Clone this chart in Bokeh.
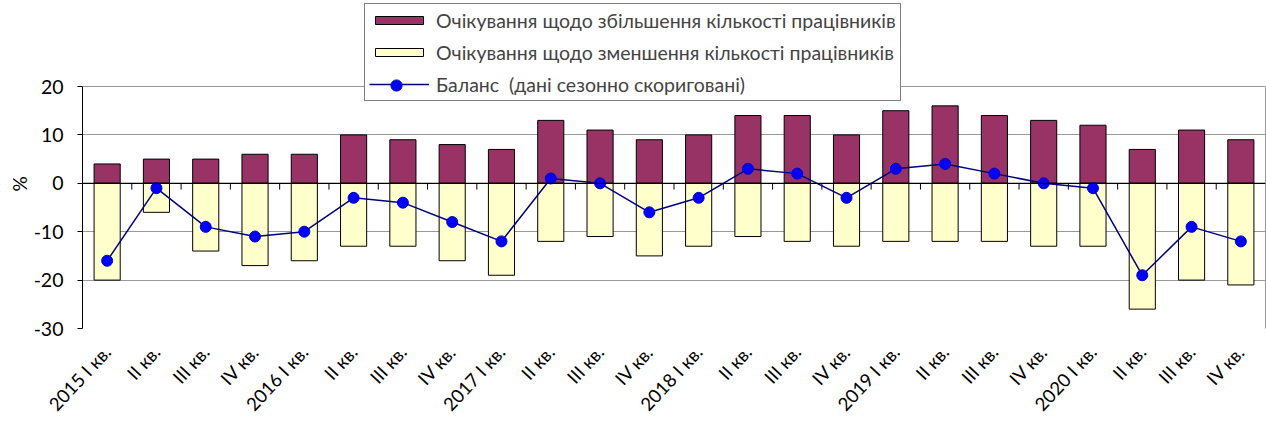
import math
from bokeh.plotting import figure
from bokeh.models import (ColumnDataSource, FixedTicker, Legend, LegendItem, Span,
                          Range1d, LinearAxis)
from bokeh.embed import file_html
from bokeh.resources import INLINE

labels = ["2015 I кв.", "II кв.", "III кв.", "IV кв.",
          "2016 I кв.", "II кв.", "III кв.", "IV кв.",
          "2017 I кв.", "II кв.", "III кв.", "IV кв.",
          "2018 I кв.", "II кв.", "III кв.", "IV кв.",
          "2019 I кв.", "II кв.", "III кв.", "IV кв.",
          "2020 I кв.", "II кв.", "III кв.", "IV кв."]
increase = [4, 5, 5, 6, 6, 10, 9, 8, 7, 13, 11, 9, 10, 14, 14, 10, 15, 16, 14, 13, 12, 7, 11, 9]
decrease = [-20, -6, -14, -17, -16, -13, -13, -16, -19, -12, -11, -15, -13, -11, -12, -13, -12, -12, -12, -13, -13, -26, -20, -21]
balance = [-16, -1, -9, -11, -10, -3, -4, -8, -12, 1, 0, -6, -3, 3, 2, -3, 3, 4, 2, 0, -1, -19, -9, -12]
y_ticks = [-30, -20, -10, 0, 10, 20]
y_tick_labels = ["-30", "-20", "-10", "0", "10", "20"]

FONT = "Lato"
x = list(range(len(labels)))
src = ColumnDataSource(dict(x=x, inc=increase, dec=decrease, bal=balance,
                            zero=[0] * len(x),
                            edge=[i + 0.5 for i in x],
                            tick=[-1.3] * len(x)))

# y range extends above 20 so the legend can sit inside the frame (as in the original)
p = figure(width=1266, height=425, output_backend="svg", toolbar_location=None,
           x_range=Range1d(-0.5, len(labels) - 0.5), y_range=Range1d(-30, 37.77))
p.min_border_left = 82
p.min_border_right = 1
p.min_border_top = 0
p.min_border_bottom = 97
p.outline_line_color = None
p.background_fill_color = "white"

# grid
p.xgrid.grid_line_color = None
p.ygrid.grid_line_color = "#999999"
p.ygrid.ticker = FixedTicker(ticks=y_ticks)

# bars
r_inc = p.vbar(x="x", top="inc", bottom="zero", width=0.53, source=src,
               fill_color="#993366", line_color="black", line_width=1)
r_dec = p.vbar(x="x", top="zero", bottom="dec", width=0.53, source=src,
               fill_color="#FFFFCC", line_color="black", line_width=1)

# zero line and category boundary ticks
p.add_layout(Span(location=0, dimension="width", line_color="black", line_width=1.2))
p.segment(x0="edge", x1="edge", y0="zero", y1="tick", source=src,
          line_color="black", line_width=1)

# balance line
r_line = p.line(x="x", y="bal", source=src, line_color="#000080", line_width=1.5)
r_pts = p.scatter(x="x", y="bal", source=src, size=11, fill_color="#0000FF",
                  line_color="#0000CC", line_width=1)

# y axis
yax = p.yaxis[0]
yax.bounds = (y_ticks[0], y_ticks[-1])
yax.ticker = FixedTicker(ticks=y_ticks)
yax.major_label_overrides = {t: s for t, s in zip(y_ticks, y_tick_labels)}
yax.axis_label = "%" + "\u00a0" * 8
yax.axis_label_text_font = FONT
yax.axis_label_text_font_size = "19px"
yax.axis_label_text_font_style = "normal"
yax.axis_label_text_color = "black"
yax.axis_label_standoff = 0
yax.major_label_text_font = FONT
yax.major_label_text_font_size = "19.5px"
yax.major_label_text_color = "black"
yax.major_label_standoff = 14
yax.major_tick_out = 5
yax.major_tick_in = 0
yax.minor_tick_out = 0
yax.minor_tick_in = 0
yax.axis_line_color = "black"
yax.major_tick_line_color = "black"

# right border of the plot area
rax = LinearAxis(bounds=(y_ticks[0], y_ticks[-1]), ticker=FixedTicker(ticks=[]),
                 axis_line_color="#999999", major_tick_out=0, major_tick_in=0,
                 minor_tick_out=0, minor_tick_in=0, major_label_standoff=0,
                 major_label_text_font_size="0px")
p.add_layout(rax, "right")

# x axis
xax = p.xaxis[0]
xax.ticker = FixedTicker(ticks=x)
xax.major_label_overrides = {i: lab for i, lab in zip(x, labels)}
xax.major_label_orientation = math.radians(47)
xax.major_label_text_font = FONT
xax.major_label_text_font_size = "18.5px"
xax.major_label_text_color = "black"
xax.major_label_standoff = 20
xax.axis_line_color = None
xax.major_tick_line_color = None
xax.minor_tick_line_color = None
xax.major_tick_out = 0
xax.major_tick_in = 0

legend = Legend(items=[
    LegendItem(label="Очікування щодо збільшення кількості працівників", renderers=[r_inc]),
    LegendItem(label="Очікування щодо зменшення кількості працівників", renderers=[r_dec]),
    LegendItem(label="Баланс  (дані сезонно скориговані)", renderers=[r_line]),
], location=(282, 227))
legend.label_text_font = FONT
legend.label_text_font_size = "19.5px"
legend.label_height = 24
legend.glyph_width = 60
legend.glyph_height = 10
legend.label_standoff = 7
legend.spacing = 8
legend.padding = 4
legend.margin = 0
legend.border_line_color = "black"
legend.border_line_width = 1
legend.background_fill_color = "white"
legend.background_fill_alpha = 1
p.add_layout(legend, "center")

# marker of the balance legend entry, drawn over the centre of its line sample
legend_marker = Legend(items=[LegendItem(label=" ", renderers=[r_pts])],
                       location=(300, 229))
legend_marker.glyph_width = 28
legend_marker.glyph_height = 28
legend_marker.label_height = 28
legend_marker.label_standoff = 0
legend_marker.label_text_font_size = "2px"
legend_marker.padding = 0
legend_marker.margin = 0
legend_marker.border_line_color = None
legend_marker.background_fill_alpha = 0
p.add_layout(legend_marker, "center")

open("out.html", "w").write(file_html(p, INLINE))
